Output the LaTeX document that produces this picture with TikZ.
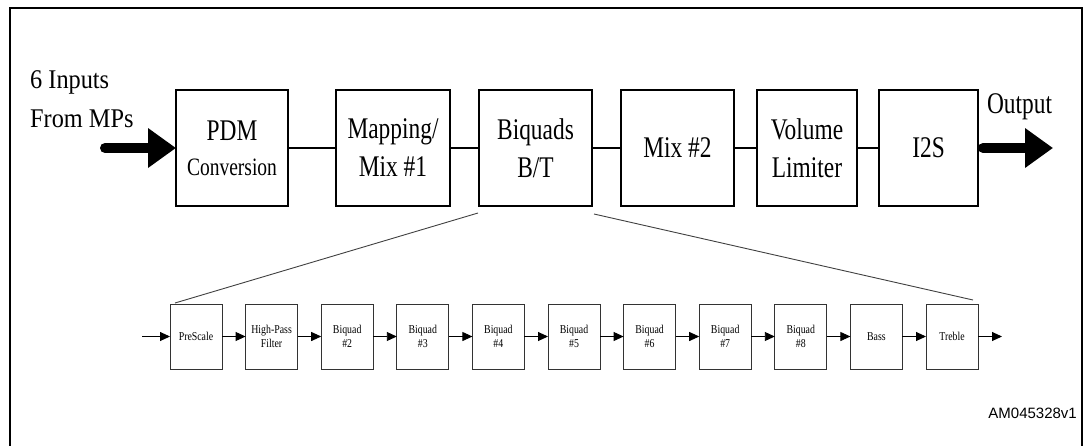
\documentclass[tikz,border=0pt]{standalone}
\usepackage{fontspec}
\setmainfont{Liberation Serif}
\newfontfamily\bigf[FakeStretch=0.78]{Liberation Serif}
\newfontfamily\inpf[FakeStretch=0.9]{Liberation Serif}
\newfontfamily\smf[FakeStretch=0.82]{Liberation Serif}
\newfontfamily\arialf{Liberation Sans}
\usetikzlibrary{arrows.meta,calc}
\begin{document}
\begin{tikzpicture}[x=1pt,y=-1pt,
  bigbox/.style={draw,line width=2pt,minimum height=116pt,inner sep=0pt,outer sep=0pt,align=center,font=\bigf\fontsize{30}{38}\selectfont},
  smallbox/.style={draw=black!80,line width=0.9pt,minimum width=52pt,minimum height=65pt,inner sep=0pt,outer sep=0pt,align=center,font=\smf\fontsize{12}{14.5}\selectfont},
  link/.style={line width=2pt},
  bigarrow/.style={line width=10pt,line cap=round,-{Triangle[length=28pt,width=38pt]}},
  flow/.style={line width=0.9pt,-{Triangle[length=10pt,width=9pt]}},
  zoomline/.style={line width=0.9pt,draw=black!75}
]
\useasboundingbox (0,0) rectangle (1084,445);
% frame
\draw[line width=2.5pt] (10,447) -- (10,8) -- (1082,8) -- (1082,447);
% top row
\node[bigbox,minimum width=112pt] (pdm) at (232,148) {PDM\\[-3pt]{\fontsize{25}{35}\selectfont Conversion}};
\node[bigbox,minimum width=114pt] (map) at (393,148) {Mapping/\\Mix \#1};
\node[bigbox,minimum width=113pt] (bq) at (535.5,148) {Biquads\\B/T};
\node[bigbox,minimum width=113pt] (mix) at (677.5,148) {Mix \#2};
\node[bigbox,minimum width=100pt] (vol) at (807,148) {Volume\\Limiter};
\node[bigbox,minimum width=99pt] (i2s) at (928.5,148) {I2S};
\draw[link] (pdm) -- (map);
\draw[link] (map) -- (bq);
\draw[link] (bq) -- (mix);
\draw[link] (mix) -- (vol);
\draw[link] (vol) -- (i2s);
\coordinate (inS) at (105,148);
\coordinate (outE) at (1053,148);
\draw[bigarrow] (inS) -- (pdm.west);
\draw[bigarrow] ([xshift=5pt]i2s.east) -- (outE);
\node[anchor=north west,inner sep=0pt,align=left,font=\inpf\fontsize{27}{39}\selectfont] (inlbl) at (30,70) {6 Inputs\\From MPs};
\node[anchor=base,inner sep=0pt,font=\bigf\fontsize{30}{36}\selectfont] (outlbl) at (1019.5,113) {Output};
% bottom row
\foreach \i/\t in {0/PreScale,1/{High-Pass\\Filter},2/{Biquad\\\#2},3/{Biquad\\\#3},4/{Biquad\\\#4},5/{Biquad\\\#5},6/{Biquad\\\#6},7/{Biquad\\\#7},8/{Biquad\\\#8},9/Bass,10/Treble}
  \node[smallbox] (p\i) at ({196+75.6*\i},336.5) {\t};
\coordinate (in2) at (142,336.5);
\coordinate (out2) at (1002,336.5);
\draw[flow] (in2) -- (p0);
\foreach \a/\b in {0/1,1/2,2/3,3/4,4/5,5/6,6/7,7/8,8/9,9/10}
  \draw[flow] (p\a) -- (p\b);
\draw[flow] (p10) -- (out2);
% zoom lines
\draw[zoomline] ([shift={(-1,7)}]bq.south west) -- ([shift={(5,-1)}]p0.north west);
\draw[zoomline] ([shift={(2,8)}]bq.south east) -- ([shift={(-5,-4)}]p10.north east);
\node[anchor=base east,inner sep=0pt,font=\arialf\fontsize{15}{18}\selectfont] (am) at (1077,418) {AM045328v1};
\end{tikzpicture}
\end{document}
